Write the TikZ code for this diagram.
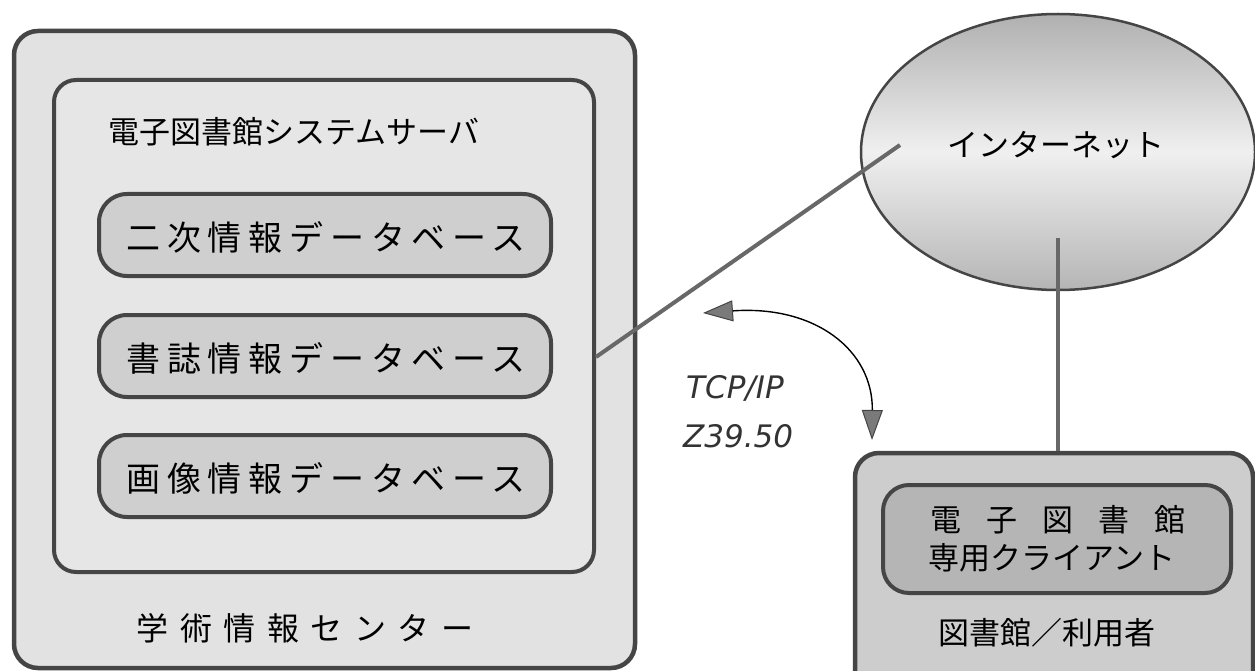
\documentclass[tikz,border=0pt]{standalone}
\usepackage{fontspec}
\setmainfont{DejaVu Sans}
\newfontfamily\jp{Noto Sans CJK JP}
\usetikzlibrary{shapes.geometric,arrows.meta}
\definecolor{edge}{HTML}{454545}
\definecolor{lite}{HTML}{E2E2E2}
\definecolor{srvfill}{HTML}{E6E6E6}
\definecolor{mid}{HTML}{CFCFCF}
\definecolor{cliout}{HTML}{CDCDCD}
\definecolor{cliin}{HTML}{B5B5B5}
\definecolor{wire}{HTML}{686868}
\definecolor{headfill}{HTML}{7A7A7A}
\begin{document}
\begin{tikzpicture}[x=1pt,y=-1pt,
  frame/.style={draw=edge, line width=4.5pt, rounded corners=24pt, inner sep=0pt},
  pill/.style={draw=edge, line width=4pt, rounded corners=28pt, inner sep=0pt, fill=mid},
  jtxt/.style={font=\jp\fontsize{#1}{#1}\selectfont, text=black, inner sep=0pt},
  wirestyle/.style={draw=wire, line width=4pt},
  latin/.style={font=\itshape\fontsize{31}{31}\selectfont, text=black!80, anchor=base west, inner sep=0pt}]
\clip (0,0) rectangle (1255,671);
\fill[white] (0,0) rectangle (1255,671);

% left: center
\node[frame, fill=lite, minimum width=621, minimum height=637] (ctr) at (324.5,349.5) {};
\node[frame, fill=srvfill, line width=4pt, minimum width=540, minimum height=492, rounded corners=22pt] (srv) at (324,326) {};
\node[jtxt=31] (srvt) at (294,132) {電子図書館システムサーバ};
\node[pill, minimum width=452, minimum height=82] (db1) at (325,235) {};
\node[pill, minimum width=452, minimum height=82] (db2) at (325,356) {};
\node[pill, minimum width=452, minimum height=82] (db3) at (325,476) {};
\node[jtxt=34] (db1t) at (326,237) {\addfontfeatures{LetterSpace=20}二次情報データベース};
\node[jtxt=34] (db2t) at (326,358) {\addfontfeatures{LetterSpace=20}書誌情報データベース};
\node[jtxt=34] (db3t) at (326,478) {\addfontfeatures{LetterSpace=20}画像情報データベース};
\node[jtxt=32] (ctrt) at (305,628) {\addfontfeatures{LetterSpace=36}学術情報センター};

% internet
\node[ellipse, draw=edge, line width=2.5pt, minimum width=394, minimum height=276,
      top color=gray!62, bottom color=gray!58, middle color=gray!12] (net) at (1058,152) {};
\node[jtxt=31] (nett) at (1056,145) {インターネット};

% client
\node[frame, fill=cliout, minimum width=398, minimum height=247] (cli) at (1054,576.5) {};
\node[pill, fill=cliin, minimum width=348, minimum height=108, rounded corners=26pt] (clin) at (1057,539) {};
\node[jtxt=31] (clt1) at (1058,520) {\addfontfeatures{LetterSpace=81}電子図書館};
\node[jtxt=31] (clt2) at (1052,558) {専用クライアント};
\node[jtxt=31] (clit) at (1047,633) {図書館／利用者};

% connectors
\coordinate (netin) at (900,145);
\coordinate (netbot) at (1058,238);
\draw[wirestyle] ([yshift=-31pt]srv.east) -- (netin);
\draw[wirestyle] (netbot) -- (netbot |- cli.north);

% protocol arrow
\coordinate (aL) at (703,313);
\coordinate (aR) at (872,440);
\draw[line width=1.4pt, black,
  {Triangle[length=30pt,width=21pt,fill=headfill,color=edge,line width=1pt]}-{Triangle[length=30pt,width=21pt,fill=headfill,color=edge,line width=1pt]}]
  (aL) .. controls (815,305) and (873,350) .. (aR);
\node[latin] (tcp) at (686,398) {TCP/IP};
\node[latin] (zz) at (683,447) {Z39.50};
\end{tikzpicture}
\end{document}
